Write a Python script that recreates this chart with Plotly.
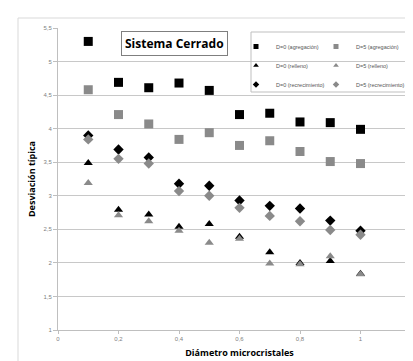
import plotly.graph_objects as go

diametro = [0.1, 0.2, 0.3, 0.4, 0.5, 0.6, 0.7, 0.8, 0.9, 1.0]

d0_agregacion = [5.30, 4.69, 4.61, 4.68, 4.57, 4.21, 4.23, 4.10, 4.09, 3.99]
d5_agregacion = [4.58, 4.21, 4.07, 3.84, 3.94, 3.75, 3.82, 3.66, 3.51, 3.48]
d0_relleno = [3.49, 2.79, 2.72, 2.54, 2.58, 2.39, 2.16, 2.00, 2.03, 1.84]
d5_relleno = [3.19, 2.71, 2.62, 2.48, 2.30, 2.36, 1.99, 1.98, 2.10, 1.83]
d0_recrecimiento = [3.90, 3.69, 3.57, 3.18, 3.15, 2.93, 2.85, 2.81, 2.63, 2.48]
d5_recrecimiento = [3.84, 3.55, 3.48, 3.07, 3.00, 2.82, 2.70, 2.62, 2.49, 2.42]

x_ticks = [0, 0.2, 0.4, 0.6, 0.8, 1.0, 1.2]
y_ticks = [1, 1.5, 2, 2.5, 3, 3.5, 4, 4.5, 5, 5.5]

BLACK = "#000000"
GRAY = "#8a8a8a"

series = [
    ("D=0 (agregación)", d0_agregacion, "square", BLACK, 9, "legend"),
    ("D=0 (relleno)", d0_relleno, "triangle-up", BLACK, 8, "legend"),
    ("D=0 (recrecimiento)", d0_recrecimiento, "diamond", BLACK, 8, "legend"),
    ("D=5 (agregación)", d5_agregacion, "square", GRAY, 9, "legend2"),
    ("D=5 (relleno)", d5_relleno, "triangle-up", GRAY, 8, "legend2"),
    ("D=5 (recrecimiento)", d5_recrecimiento, "diamond", GRAY, 8, "legend2"),
]

fig = go.Figure()
for name, vals, sym, col, size, leg in series:
    fig.add_trace(go.Scatter(
        x=diametro, y=vals, mode="markers", name=name, showlegend=False,
        marker=dict(symbol=sym, color=col, size=size, line=dict(width=0)),
    ))
# legend entries with small symbols, as in the reference
for name, vals, sym, col, size, leg in series:
    fig.add_trace(go.Scatter(
        x=[None], y=[None], mode="markers", name=name, legend=leg,
        marker=dict(symbol=sym, color=col, size=5, line=dict(width=0)),
    ))

W, H = 413, 361
L, R, T, B = 50, 0, 20, 39
pw, ph = W - L - R, H - T - B

def px(xp):
    return (xp - L) / pw

def py(yp):
    return (H - B - yp) / ph

axis_font = dict(family="Liberation Sans, Arial, sans-serif", size=6, color="#7f7f7f")
leg_font = dict(family="Liberation Sans, Arial, sans-serif", size=5.5, color="#555555")

fig.update_layout(
    width=W, height=H,
    margin=dict(l=L, r=R, t=T, b=B, autoexpand=False),
    paper_bgcolor="white", plot_bgcolor="white",
    separators=",.",
    font=dict(family="Liberation Sans, Arial, sans-serif"),
    xaxis=dict(
        range=[0, 1.2], tickvals=x_ticks, showgrid=False, zeroline=False,
        showline=True, linecolor="#bfbfbf", linewidth=1,
        ticks="outside", ticklen=3, tickcolor="#bfbfbf", tickfont=axis_font,
        title=dict(text="<b>Diámetro microcristales</b>", standoff=8,
                   font=dict(family="Open Sans, sans-serif", size=9, color="#000000")),
    ),
    yaxis=dict(
        range=[1, 5.5], tickvals=y_ticks, showgrid=True, gridcolor="#c8c8c8", gridwidth=1,
        zeroline=False, showline=True, linecolor="#bfbfbf", linewidth=1,
        ticks="outside", ticklen=4, tickcolor="#bfbfbf", tickfont=axis_font,
        title=dict(text="<b>Desviación típica</b>", standoff=6,
                   font=dict(family="Open Sans, sans-serif", size=9, color="#000000")),
    ),
    legend=dict(
        x=px(228), y=py(24), xanchor="left", yanchor="top",
        bgcolor="rgba(0,0,0,0)", borderwidth=0, tracegroupgap=0,
        font=leg_font, itemwidth=30,
    ),
    legend2=dict(
        x=px(308), y=py(24), xanchor="left", yanchor="top",
        bgcolor="rgba(0,0,0,0)", borderwidth=0, tracegroupgap=0,
        font=leg_font, itemwidth=30,
    ),
    showlegend=True,
)

# chart-area border
fig.add_shape(type="rect", xref="paper", yref="paper",
              x0=px(10), x1=px(418), y0=py(359), y1=py(10),
              line=dict(color="#d9d9d9", width=1), layer="below")
# legend border
fig.add_shape(type="rect", xref="paper", yref="paper",
              x0=px(243), x1=px(409), y0=py(84), y1=py(24),
              line=dict(color="#bfbfbf", width=1), fillcolor="rgba(0,0,0,0)")

fig.add_annotation(
    text="<b>Sistema Cerrado</b>", xref="paper", yref="paper",
    x=px(166), y=py(35), xanchor="center", yanchor="middle", showarrow=False,
    font=dict(family="Open Sans, sans-serif", size=12, color="#000000"),
    bordercolor="#7f7f7f", borderwidth=1, borderpad=3, bgcolor="white",
)

fig.write_html("out.html")
